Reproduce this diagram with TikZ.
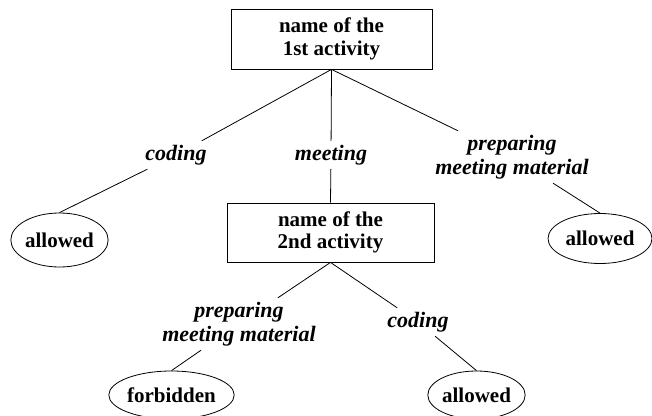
\documentclass[tikz,border=0pt]{standalone}
\usepackage{fontspec}
\setmainfont{Liberation Serif}
\usetikzlibrary{shapes.geometric}
\begin{document}
\begin{tikzpicture}[x=1pt,y=-1pt,
  every node/.style={font=\fontsize{21}{22.5}\selectfont\bfseries},
  activity/.style={draw, rectangle, align=center, inner sep=0pt, line width=0.8pt},
  verdict/.style={draw, ellipse, inner sep=0pt, line width=0.8pt},
  choice/.style={align=center, inner xsep=3pt, inner ysep=4pt,
    font=\fontsize{22}{24}\selectfont\bfseries\itshape},
  link/.style={line width=0.8pt}]
\useasboundingbox (0,0) rectangle (652,415);

% activities
\node[activity, minimum width=201pt, minimum height=60pt] (a1) at (331.5,39) {name of the\\1st activity};
\node[activity, minimum width=207pt, minimum height=59pt] (a2) at (330.5,232.5) {name of the\\2nd activity};

% choices after the first activity
\node[choice] (c1) at (176,155) {coding};
\node[choice] (m1) at (331,155) {meeting};
\node[choice] (p1) at (512,157) {preparing\\meeting material};

% choices after the second activity
\node[choice] (p2) at (239,324) {preparing\\meeting material};
\node[choice] (c2) at (418,322) {coding};

% verdicts
\node[verdict, minimum width=96pt, minimum height=54pt] (v1) at (59.5,240) {allowed};
\node[verdict, minimum width=104pt, minimum height=50pt] (v2) at (600,238.5) {allowed};
\node[verdict, minimum width=111pt, minimum height=48pt] (v3) at (171.5,395) {forbidden};
\node[verdict, minimum width=97pt, minimum height=48pt] (v4) at (476.5,395) {allowed};

% branches
\draw[link] (a1.south) -- (c1);
\draw[link] (a1.south) -- (m1);
\draw[link] (a1.south) -- (p1);
\draw[link] (c1) -- (v1.north);
\draw[link] (m1) -- (a2.north);
\draw[link] (p1) -- (v2.north);
\draw[link] (a2.south) -- (p2);
\draw[link] (a2.south) -- (c2);
\draw[link] (p2) -- (v3.north);
\draw[link] (c2) -- (v4.north);
\end{tikzpicture}
\end{document}
